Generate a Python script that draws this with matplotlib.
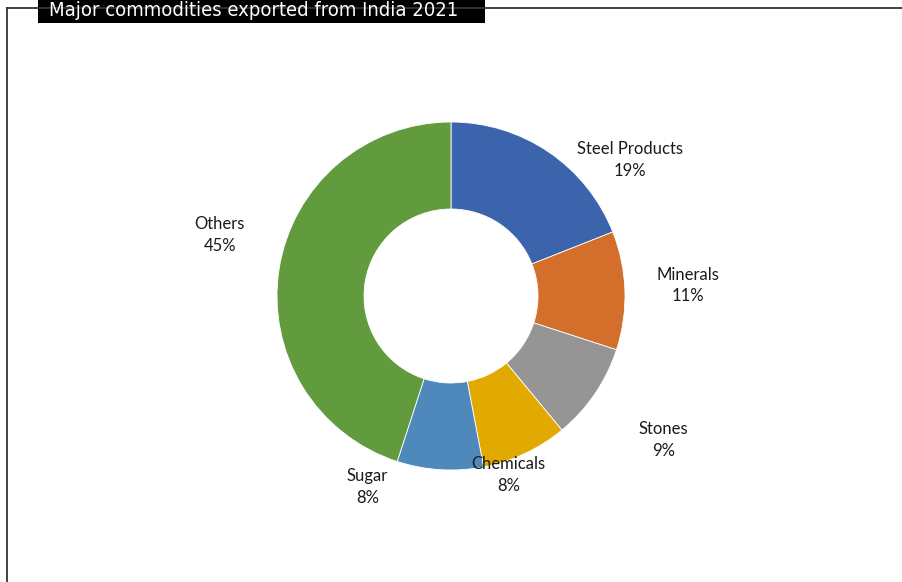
import matplotlib
matplotlib.use("Agg")
import matplotlib.pyplot as plt
from matplotlib.patches import Rectangle
from matplotlib.lines import Line2D

# Export shares, percent
commodities = ["Steel Products", "Minerals", "Stones", "Chemicals", "Sugar", "Others"]
shares = [19, 11, 9, 8, 8, 45]
colors = ["#3C64AD", "#D36F2B", "#959595", "#E2A900", "#4F89BC", "#629A3E"]

# label anchor points, in units of the outer radius
label_pos = [(1.03, 0.78), (1.36, 0.06), (1.22, -0.83),
             (0.33, -1.03), (-0.48, -1.10), (-1.33, 0.35)]

fig = plt.figure(figsize=(9.03, 5.82), dpi=100)
fig.patch.set_facecolor("white")

# donut
ax = fig.add_axes([0, 0, 1, 1])
ax.pie(shares, colors=colors, startangle=90, counterclock=False, radius=1.0,
       wedgeprops=dict(width=0.5, edgecolor="white", linewidth=0.6))
ax.set_xlim(-451 / 174, (903 - 451) / 174)
ax.set_ylim(-(582 - 296) / 174, 296 / 174)
ax.set_aspect("equal")
ax.axis("off")

for name, val, (x, y) in zip(commodities, shares, label_pos):
    ax.text(x, y, f"{name}\n{val}%", ha="center", va="center",
            fontsize=12, family="Lato", color="#1a1a1a", linespacing=1.45)

# outer frame (top and left edge) and title box
fig.add_artist(Line2D([7 / 903, 7 / 903], [0, 1 - 8 / 582], color="#333333", lw=1.3,
                      transform=fig.transFigure))
fig.add_artist(Line2D([7 / 903, 1], [1 - 8 / 582, 1 - 8 / 582], color="#333333", lw=1.3,
                      transform=fig.transFigure))
fig.add_artist(Rectangle((38 / 903, 1 - 23 / 582), (485 - 38) / 903, 23 / 582,
                         facecolor="black", edgecolor="none", transform=fig.transFigure))
fig.text(254 / 903, 1 - 16 / 582, "Major commodities exported from India 2021",
         ha="center", va="baseline", color="white", fontsize=14.5,
         family="DejaVu Sans", fontstretch="condensed")

fig.savefig("out.png", dpi=100)
